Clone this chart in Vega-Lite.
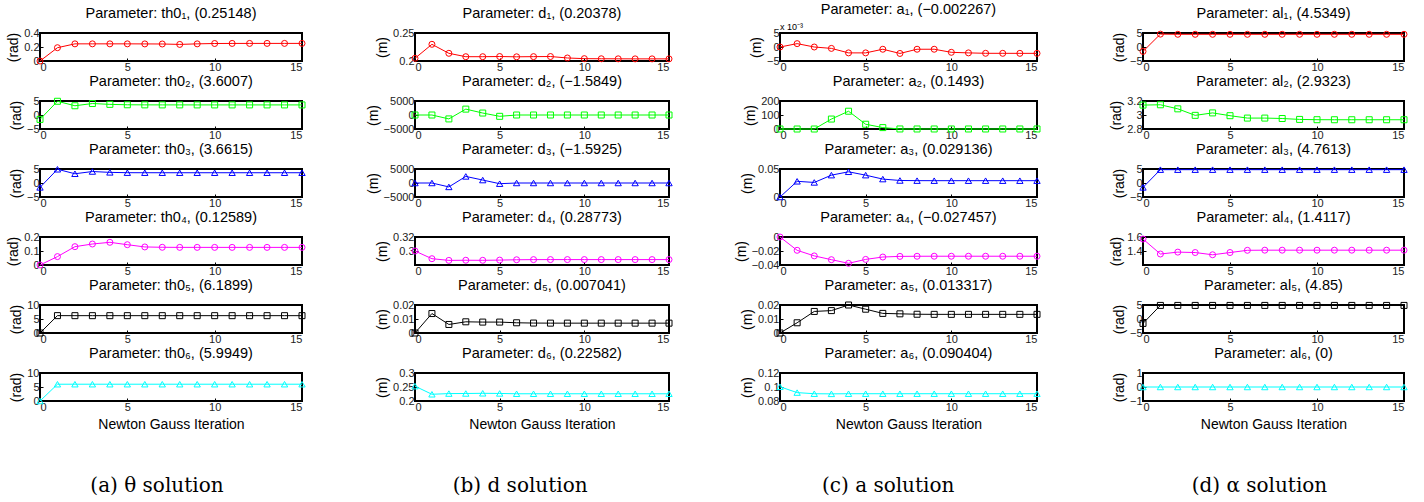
{
  "$schema": "https://vega.github.io/schema/vega-lite/v6.json",
  "padding": {"left": 5, "top": 0, "right": 5, "bottom": 5},
  "background": "white",
  "datasets": {
    "th1": [{"i":0,"v":0},{"i":1,"v":0.19},{"i":2,"v":0.245},{"i":3,"v":0.245},{"i":4,"v":0.245},{"i":5,"v":0.245},{"i":6,"v":0.244},{"i":7,"v":0.243},{"i":8,"v":0.237},{"i":9,"v":0.245},{"i":10,"v":0.25},{"i":11,"v":0.251},{"i":12,"v":0.2513},{"i":13,"v":0.2514},{"i":14,"v":0.2515},{"i":15,"v":0.25148}],
    "th2": [{"i":0,"v":-1.57},{"i":1,"v":4.9},{"i":2,"v":3.3},{"i":3,"v":4.1},{"i":4,"v":3.8},{"i":5,"v":3.65},{"i":6,"v":3.62},{"i":7,"v":3.61},{"i":8,"v":3.605},{"i":9,"v":3.602},{"i":10,"v":3.601},{"i":11,"v":3.6007},{"i":12,"v":3.6007},{"i":13,"v":3.6007},{"i":14,"v":3.6007},{"i":15,"v":3.6007}],
    "th3": [{"i":0,"v":-1.57},{"i":1,"v":4.9},{"i":2,"v":3.3},{"i":3,"v":4.1},{"i":4,"v":3.8},{"i":5,"v":3.68},{"i":6,"v":3.67},{"i":7,"v":3.665},{"i":8,"v":3.663},{"i":9,"v":3.662},{"i":10,"v":3.6615},{"i":11,"v":3.6615},{"i":12,"v":3.6615},{"i":13,"v":3.6615},{"i":14,"v":3.6615},{"i":15,"v":3.6615}],
    "th4": [{"i":0,"v":0},{"i":1,"v":0.06},{"i":2,"v":0.131},{"i":3,"v":0.15},{"i":4,"v":0.162},{"i":5,"v":0.145},{"i":6,"v":0.129},{"i":7,"v":0.1265},{"i":8,"v":0.126},{"i":9,"v":0.1259},{"i":10,"v":0.12589},{"i":11,"v":0.12589},{"i":12,"v":0.12589},{"i":13,"v":0.12589},{"i":14,"v":0.12589},{"i":15,"v":0.12589}],
    "th5": [{"i":0,"v":0},{"i":1,"v":6.2},{"i":2,"v":6.19},{"i":3,"v":6.19},{"i":4,"v":6.19},{"i":5,"v":6.19},{"i":6,"v":6.19},{"i":7,"v":6.19},{"i":8,"v":6.19},{"i":9,"v":6.19},{"i":10,"v":6.19},{"i":11,"v":6.19},{"i":12,"v":6.19},{"i":13,"v":6.19},{"i":14,"v":6.19},{"i":15,"v":6.1899}],
    "th6": [{"i":0,"v":0},{"i":1,"v":5.99},{"i":2,"v":5.995},{"i":3,"v":5.995},{"i":4,"v":5.995},{"i":5,"v":5.995},{"i":6,"v":5.995},{"i":7,"v":5.995},{"i":8,"v":5.995},{"i":9,"v":5.995},{"i":10,"v":5.995},{"i":11,"v":5.995},{"i":12,"v":5.995},{"i":13,"v":5.995},{"i":14,"v":5.995},{"i":15,"v":5.9949}],
    "d1": [{"i":0,"v":0.2048},{"i":1,"v":0.2298},{"i":2,"v":0.2137},{"i":3,"v":0.2077},{"i":4,"v":0.2077},{"i":5,"v":0.208},{"i":6,"v":0.2075},{"i":7,"v":0.2078},{"i":8,"v":0.208},{"i":9,"v":0.2054},{"i":10,"v":0.2042},{"i":11,"v":0.204},{"i":12,"v":0.2039},{"i":13,"v":0.2038},{"i":14,"v":0.2038},{"i":15,"v":0.20378}],
    "d2": [{"i":0,"v":0},{"i":1,"v":0},{"i":2,"v":-1400},{"i":3,"v":2100},{"i":4,"v":700},{"i":5,"v":-470},{"i":6,"v":-5},{"i":7,"v":-2},{"i":8,"v":-1.6},{"i":9,"v":-1.585},{"i":10,"v":-1.585},{"i":11,"v":-1.585},{"i":12,"v":-1.585},{"i":13,"v":-1.585},{"i":14,"v":-1.585},{"i":15,"v":-1.5849}],
    "d3": [{"i":0,"v":0},{"i":1,"v":0},{"i":2,"v":-1400},{"i":3,"v":2350},{"i":4,"v":1050},{"i":5,"v":-250},{"i":6,"v":0},{"i":7,"v":-2},{"i":8,"v":-1.6},{"i":9,"v":-1.59},{"i":10,"v":-1.59},{"i":11,"v":-1.59},{"i":12,"v":-1.59},{"i":13,"v":-1.59},{"i":14,"v":-1.59},{"i":15,"v":-1.5925}],
    "d4": [{"i":0,"v":0.3},{"i":1,"v":0.289},{"i":2,"v":0.2866},{"i":3,"v":0.2868},{"i":4,"v":0.2867},{"i":5,"v":0.287},{"i":6,"v":0.2875},{"i":7,"v":0.2877},{"i":8,"v":0.28773},{"i":9,"v":0.28773},{"i":10,"v":0.28773},{"i":11,"v":0.28773},{"i":12,"v":0.28773},{"i":13,"v":0.28773},{"i":14,"v":0.28773},{"i":15,"v":0.28773}],
    "d5": [{"i":0,"v":0},{"i":1,"v":0.0139},{"i":2,"v":0.0061},{"i":3,"v":0.008},{"i":4,"v":0.0078},{"i":5,"v":0.0078},{"i":6,"v":0.0073},{"i":7,"v":0.0071},{"i":8,"v":0.00705},{"i":9,"v":0.007041},{"i":10,"v":0.007041},{"i":11,"v":0.007041},{"i":12,"v":0.007041},{"i":13,"v":0.007041},{"i":14,"v":0.007041},{"i":15,"v":0.007041}],
    "d6": [{"i":0,"v":0.253},{"i":1,"v":0.224},{"i":2,"v":0.2265},{"i":3,"v":0.2268},{"i":4,"v":0.2275},{"i":5,"v":0.227},{"i":6,"v":0.2258},{"i":7,"v":0.2258},{"i":8,"v":0.2258},{"i":9,"v":0.2258},{"i":10,"v":0.2258},{"i":11,"v":0.2258},{"i":12,"v":0.2258},{"i":13,"v":0.2258},{"i":14,"v":0.2258},{"i":15,"v":0.22582}],
    "a1": [{"i":0,"v":0},{"i":1,"v":0.0012},{"i":2,"v":0},{"i":3,"v":-0.0005},{"i":4,"v":-0.0021},{"i":5,"v":-0.0021},{"i":6,"v":-0.0008},{"i":7,"v":-0.0023},{"i":8,"v":-0.0008},{"i":9,"v":-0.0008},{"i":10,"v":-0.0019},{"i":11,"v":-0.0021},{"i":12,"v":-0.00225},{"i":13,"v":-0.00226},{"i":14,"v":-0.002267},{"i":15,"v":-0.002267}],
    "a2": [{"i":0,"v":0},{"i":1,"v":0},{"i":2,"v":0},{"i":3,"v":71},{"i":4,"v":127},{"i":5,"v":34},{"i":6,"v":10},{"i":7,"v":0.3},{"i":8,"v":0.15},{"i":9,"v":0.1493},{"i":10,"v":0.1493},{"i":11,"v":0.1493},{"i":12,"v":0.1493},{"i":13,"v":0.1493},{"i":14,"v":0.1493},{"i":15,"v":0.1493}],
    "a3": [{"i":0,"v":0},{"i":1,"v":0.028},{"i":2,"v":0.026},{"i":3,"v":0.039},{"i":4,"v":0.045},{"i":5,"v":0.039},{"i":6,"v":0.032},{"i":7,"v":0.0295},{"i":8,"v":0.0292},{"i":9,"v":0.02914},{"i":10,"v":0.029136},{"i":11,"v":0.029136},{"i":12,"v":0.029136},{"i":13,"v":0.029136},{"i":14,"v":0.029136},{"i":15,"v":0.029136}],
    "a4": [{"i":0,"v":0},{"i":1,"v":-0.019},{"i":2,"v":-0.027},{"i":3,"v":-0.0324},{"i":4,"v":-0.0376},{"i":5,"v":-0.032},{"i":6,"v":-0.0286},{"i":7,"v":-0.0277},{"i":8,"v":-0.0275},{"i":9,"v":-0.027457},{"i":10,"v":-0.027457},{"i":11,"v":-0.027457},{"i":12,"v":-0.027457},{"i":13,"v":-0.027457},{"i":14,"v":-0.027457},{"i":15,"v":-0.027457}],
    "a5": [{"i":0,"v":0},{"i":1,"v":0.0073},{"i":2,"v":0.0154},{"i":3,"v":0.016},{"i":4,"v":0.02},{"i":5,"v":0.017},{"i":6,"v":0.014},{"i":7,"v":0.0137},{"i":8,"v":0.0134},{"i":9,"v":0.013317},{"i":10,"v":0.013317},{"i":11,"v":0.013317},{"i":12,"v":0.013317},{"i":13,"v":0.013317},{"i":14,"v":0.013317},{"i":15,"v":0.013317}],
    "a6": [{"i":0,"v":0.1003},{"i":1,"v":0.092},{"i":2,"v":0.0904},{"i":3,"v":0.0902},{"i":4,"v":0.0904},{"i":5,"v":0.0904},{"i":6,"v":0.0904},{"i":7,"v":0.0904},{"i":8,"v":0.0904},{"i":9,"v":0.0904},{"i":10,"v":0.0904},{"i":11,"v":0.0904},{"i":12,"v":0.0904},{"i":13,"v":0.0904},{"i":14,"v":0.0904},{"i":15,"v":0.090404}],
    "al1": [{"i":0,"v":-1.5708},{"i":1,"v":4.6},{"i":2,"v":4.54},{"i":3,"v":4.535},{"i":4,"v":4.535},{"i":5,"v":4.535},{"i":6,"v":4.535},{"i":7,"v":4.535},{"i":8,"v":4.535},{"i":9,"v":4.535},{"i":10,"v":4.535},{"i":11,"v":4.535},{"i":12,"v":4.535},{"i":13,"v":4.535},{"i":14,"v":4.535},{"i":15,"v":4.5349}],
    "al2": [{"i":0,"v":3.1416},{"i":1,"v":3.146},{"i":2,"v":3.088},{"i":3,"v":2.995},{"i":4,"v":3.03},{"i":5,"v":2.99},{"i":6,"v":2.956},{"i":7,"v":2.956},{"i":8,"v":2.95},{"i":9,"v":2.937},{"i":10,"v":2.933},{"i":11,"v":2.9323},{"i":12,"v":2.9323},{"i":13,"v":2.9323},{"i":14,"v":2.9323},{"i":15,"v":2.9323}],
    "al3": [{"i":0,"v":-1.5708},{"i":1,"v":4.76},{"i":2,"v":4.76},{"i":3,"v":4.76},{"i":4,"v":4.76},{"i":5,"v":4.76},{"i":6,"v":4.76},{"i":7,"v":4.76},{"i":8,"v":4.76},{"i":9,"v":4.76},{"i":10,"v":4.76},{"i":11,"v":4.76},{"i":12,"v":4.76},{"i":13,"v":4.76},{"i":14,"v":4.76},{"i":15,"v":4.7613}],
    "al4": [{"i":0,"v":1.5708},{"i":1,"v":1.357},{"i":2,"v":1.384},{"i":3,"v":1.378},{"i":4,"v":1.346},{"i":5,"v":1.378},{"i":6,"v":1.41},{"i":7,"v":1.4117},{"i":8,"v":1.4117},{"i":9,"v":1.4117},{"i":10,"v":1.4117},{"i":11,"v":1.4117},{"i":12,"v":1.4117},{"i":13,"v":1.4117},{"i":14,"v":1.4117},{"i":15,"v":1.4117}],
    "al5": [{"i":0,"v":-1.5708},{"i":1,"v":4.85},{"i":2,"v":4.85},{"i":3,"v":4.85},{"i":4,"v":4.85},{"i":5,"v":4.85},{"i":6,"v":4.85},{"i":7,"v":4.85},{"i":8,"v":4.85},{"i":9,"v":4.85},{"i":10,"v":4.85},{"i":11,"v":4.85},{"i":12,"v":4.85},{"i":13,"v":4.85},{"i":14,"v":4.85},{"i":15,"v":4.85}],
    "al6": [{"i":0,"v":0},{"i":1,"v":0},{"i":2,"v":0},{"i":3,"v":0},{"i":4,"v":0},{"i":5,"v":0},{"i":6,"v":0},{"i":7,"v":0},{"i":8,"v":0},{"i":9,"v":0},{"i":10,"v":0},{"i":11,"v":0},{"i":12,"v":0},{"i":13,"v":0},{"i":14,"v":0},{"i":15,"v":0}]
  },
  "spacing": 56,
  "hconcat": [
    {
      "title": {"text": "(a)  θ solution", "orient": "bottom", "anchor": "middle", "frame": "bounds", "font": "DejaVu Serif", "fontSize": 20, "offset": 44},
      "spacing": -1,
      "vconcat": [
        {"data": {"name": "th1"}, "title": "Parameter: th0₁, (0.25148)", "width": 262, "height": 28,
         "encoding": {"x": {"field": "i", "type": "quantitative", "scale": {"domain": [0, 15]}, "axis": {"values": [0, 5, 10, 15], "title": null}},
                      "y": {"field": "v", "type": "quantitative", "scale": {"domain": [0, 0.4]}, "axis": {"values": [0, 0.2, 0.4], "format": "~r", "title": "(rad)"}}},
         "layer": [{"mark": {"type": "line", "color": "#ff0000", "strokeWidth": 1}},
                   {"mark": {"type": "point", "shape": "circle", "color": "#ff0000", "size": 36, "strokeWidth": 1, "filled": false, "opacity": 1}}]},
        {"data": {"name": "th2"}, "title": "Parameter: th0₂, (3.6007)", "width": 262, "height": 28,
         "encoding": {"x": {"field": "i", "type": "quantitative", "scale": {"domain": [0, 15]}, "axis": {"values": [0, 5, 10, 15], "title": null}},
                      "y": {"field": "v", "type": "quantitative", "scale": {"domain": [-5, 5]}, "axis": {"values": [-5, 0, 5], "format": "~r", "title": "(rad)"}}},
         "layer": [{"mark": {"type": "line", "color": "#00ff00", "strokeWidth": 1}},
                   {"mark": {"type": "point", "shape": "square", "color": "#00ff00", "size": 36, "strokeWidth": 1, "filled": false, "opacity": 1}}]},
        {"data": {"name": "th3"}, "title": "Parameter: th0₃, (3.6615)", "width": 262, "height": 28,
         "encoding": {"x": {"field": "i", "type": "quantitative", "scale": {"domain": [0, 15]}, "axis": {"values": [0, 5, 10, 15], "title": null}},
                      "y": {"field": "v", "type": "quantitative", "scale": {"domain": [-5, 5]}, "axis": {"values": [-5, 0, 5], "format": "~r", "title": "(rad)"}}},
         "layer": [{"mark": {"type": "line", "color": "#0000ff", "strokeWidth": 1}},
                   {"mark": {"type": "point", "shape": "triangle-up", "color": "#0000ff", "size": 40, "strokeWidth": 1, "filled": false, "opacity": 1}}]},
        {"data": {"name": "th4"}, "title": "Parameter: th0₄, (0.12589)", "width": 262, "height": 28,
         "encoding": {"x": {"field": "i", "type": "quantitative", "scale": {"domain": [0, 15]}, "axis": {"values": [0, 5, 10, 15], "title": null}},
                      "y": {"field": "v", "type": "quantitative", "scale": {"domain": [0, 0.2]}, "axis": {"values": [0, 0.1, 0.2], "format": "~r", "title": "(rad)"}}},
         "layer": [{"mark": {"type": "line", "color": "#ff00ff", "strokeWidth": 1}},
                   {"mark": {"type": "point", "shape": "circle", "color": "#ff00ff", "size": 36, "strokeWidth": 1, "filled": false, "opacity": 1}}]},
        {"data": {"name": "th5"}, "title": "Parameter: th0₅, (6.1899)", "width": 262, "height": 28,
         "encoding": {"x": {"field": "i", "type": "quantitative", "scale": {"domain": [0, 15]}, "axis": {"values": [0, 5, 10, 15], "title": null}},
                      "y": {"field": "v", "type": "quantitative", "scale": {"domain": [0, 10]}, "axis": {"values": [0, 5, 10], "format": "~r", "title": "(rad)"}}},
         "layer": [{"mark": {"type": "line", "color": "#000000", "strokeWidth": 1}},
                   {"mark": {"type": "point", "shape": "square", "color": "#000000", "size": 36, "strokeWidth": 1, "filled": false, "opacity": 1}}]},
        {"data": {"name": "th6"}, "title": "Parameter: th0₆, (5.9949)", "width": 262, "height": 28,
         "encoding": {"x": {"field": "i", "type": "quantitative", "scale": {"domain": [0, 15]}, "axis": {"values": [0, 5, 10, 15], "title": "Newton Gauss Iteration"}},
                      "y": {"field": "v", "type": "quantitative", "scale": {"domain": [0, 10]}, "axis": {"values": [0, 5, 10], "format": "~r", "title": "(rad)"}}},
         "layer": [{"mark": {"type": "line", "color": "#00ffff", "strokeWidth": 1}},
                   {"mark": {"type": "point", "shape": "triangle-up", "color": "#00ffff", "size": 40, "strokeWidth": 1, "filled": false, "opacity": 1}}]}
      ]
    },
    {
      "spacing": 57,
      "hconcat": [
        {
          "title": {"text": "(b)  d solution", "orient": "bottom", "anchor": "middle", "frame": "bounds", "font": "DejaVu Serif", "fontSize": 20, "offset": 44},
          "spacing": -1,
          "vconcat": [
            {"data": {"name": "d1"}, "title": "Parameter: d₁, (0.20378)", "width": 254, "height": 28,
             "encoding": {"x": {"field": "i", "type": "quantitative", "scale": {"domain": [0, 15]}, "axis": {"values": [0, 5, 10, 15], "title": null}},
                          "y": {"field": "v", "type": "quantitative", "scale": {"domain": [0.2, 0.25]}, "axis": {"values": [0.2, 0.25], "format": "~r", "title": "(m)"}}},
             "layer": [{"mark": {"type": "line", "color": "#ff0000", "strokeWidth": 1}},
                       {"mark": {"type": "point", "shape": "circle", "color": "#ff0000", "size": 36, "strokeWidth": 1, "filled": false, "opacity": 1}}]},
            {"data": {"name": "d2"}, "title": "Parameter: d₂, (−1.5849)", "width": 254, "height": 28,
             "encoding": {"x": {"field": "i", "type": "quantitative", "scale": {"domain": [0, 15]}, "axis": {"values": [0, 5, 10, 15], "title": null}},
                          "y": {"field": "v", "type": "quantitative", "scale": {"domain": [-5000, 5000]}, "axis": {"values": [-5000, 0, 5000], "format": "~r", "title": "(m)"}}},
             "layer": [{"mark": {"type": "line", "color": "#00ff00", "strokeWidth": 1}},
                       {"mark": {"type": "point", "shape": "square", "color": "#00ff00", "size": 36, "strokeWidth": 1, "filled": false, "opacity": 1}}]},
            {"data": {"name": "d3"}, "title": "Parameter: d₃, (−1.5925)", "width": 254, "height": 28,
             "encoding": {"x": {"field": "i", "type": "quantitative", "scale": {"domain": [0, 15]}, "axis": {"values": [0, 5, 10, 15], "title": null}},
                          "y": {"field": "v", "type": "quantitative", "scale": {"domain": [-5000, 5000]}, "axis": {"values": [-5000, 0, 5000], "format": "~r", "title": "(m)"}}},
             "layer": [{"mark": {"type": "line", "color": "#0000ff", "strokeWidth": 1}},
                       {"mark": {"type": "point", "shape": "triangle-up", "color": "#0000ff", "size": 40, "strokeWidth": 1, "filled": false, "opacity": 1}}]},
            {"data": {"name": "d4"}, "title": "Parameter: d₄, (0.28773)", "width": 254, "height": 28,
             "encoding": {"x": {"field": "i", "type": "quantitative", "scale": {"domain": [0, 15]}, "axis": {"values": [0, 5, 10, 15], "title": null}},
                          "y": {"field": "v", "type": "quantitative", "scale": {"domain": [0.28, 0.32]}, "axis": {"values": [0.3, 0.32], "format": "~r", "title": "(m)"}}},
             "layer": [{"mark": {"type": "line", "color": "#ff00ff", "strokeWidth": 1}},
                       {"mark": {"type": "point", "shape": "circle", "color": "#ff00ff", "size": 36, "strokeWidth": 1, "filled": false, "opacity": 1}}]},
            {"data": {"name": "d5"}, "title": "Parameter: d₅, (0.007041)", "width": 254, "height": 28,
             "encoding": {"x": {"field": "i", "type": "quantitative", "scale": {"domain": [0, 15]}, "axis": {"values": [0, 5, 10, 15], "title": null}},
                          "y": {"field": "v", "type": "quantitative", "scale": {"domain": [0, 0.02]}, "axis": {"values": [0, 0.01, 0.02], "format": "~r", "title": "(m)"}}},
             "layer": [{"mark": {"type": "line", "color": "#000000", "strokeWidth": 1}},
                       {"mark": {"type": "point", "shape": "square", "color": "#000000", "size": 36, "strokeWidth": 1, "filled": false, "opacity": 1}}]},
            {"data": {"name": "d6"}, "title": "Parameter: d₆, (0.22582)", "width": 254, "height": 28,
             "encoding": {"x": {"field": "i", "type": "quantitative", "scale": {"domain": [0, 15]}, "axis": {"values": [0, 5, 10, 15], "title": "Newton Gauss Iteration"}},
                          "y": {"field": "v", "type": "quantitative", "scale": {"domain": [0.2, 0.3]}, "axis": {"values": [0.2, 0.25, 0.3], "format": "~r", "title": "(m)"}}},
             "layer": [{"mark": {"type": "line", "color": "#00ffff", "strokeWidth": 1}},
                       {"mark": {"type": "point", "shape": "triangle-up", "color": "#00ffff", "size": 40, "strokeWidth": 1, "filled": false, "opacity": 1}}]}
          ]
        },
        {
          "spacing": 64,
          "hconcat": [
            {
              "title": {"text": "(c)  a solution", "orient": "bottom", "anchor": "middle", "frame": "bounds", "font": "DejaVu Serif", "fontSize": 20, "offset": 44},
              "spacing": -1,
              "vconcat": [
                {"data": {"name": "a1"}, "title": "Parameter: a₁, (−0.002267)", "width": 257, "height": 28,
                 "encoding": {"x": {"field": "i", "type": "quantitative", "scale": {"domain": [0, 15]}, "axis": {"values": [0, 5, 10, 15], "title": null}},
                              "y": {"field": "v", "type": "quantitative", "scale": {"domain": [-0.005, 0.005]}, "axis": {"values": [-0.005, 0, 0.005], "labelExpr": "format(datum.value * 1000, '~r')", "title": "(m)"}}},
                 "layer": [{"mark": {"type": "line", "color": "#ff0000", "strokeWidth": 1}},
                           {"mark": {"type": "point", "shape": "circle", "color": "#ff0000", "size": 36, "strokeWidth": 1, "filled": false, "opacity": 1}},
                           {"data": {"values": [{"t": "x 10⁻³", "xi": 0, "yv": 0.005}]}, "mark": {"type": "text", "align": "left", "baseline": "bottom", "dy": -1, "fontSize": 9, "color": "#000000"},
                            "encoding": {"x": {"field": "xi", "type": "quantitative"}, "y": {"field": "yv", "type": "quantitative"}, "text": {"field": "t", "type": "nominal"}}}]},
                {"data": {"name": "a2"}, "title": "Parameter: a₂, (0.1493)", "width": 257, "height": 28,
                 "encoding": {"x": {"field": "i", "type": "quantitative", "scale": {"domain": [0, 15]}, "axis": {"values": [0, 5, 10, 15], "title": null}},
                              "y": {"field": "v", "type": "quantitative", "scale": {"domain": [0, 200]}, "axis": {"values": [0, 100, 200], "format": "~r", "title": "(m)"}}},
                 "layer": [{"mark": {"type": "line", "color": "#00ff00", "strokeWidth": 1}},
                           {"mark": {"type": "point", "shape": "square", "color": "#00ff00", "size": 36, "strokeWidth": 1, "filled": false, "opacity": 1}}]},
                {"data": {"name": "a3"}, "title": "Parameter: a₃, (0.029136)", "width": 257, "height": 28,
                 "encoding": {"x": {"field": "i", "type": "quantitative", "scale": {"domain": [0, 15]}, "axis": {"values": [0, 5, 10, 15], "title": null}},
                              "y": {"field": "v", "type": "quantitative", "scale": {"domain": [0, 0.05]}, "axis": {"values": [0, 0.05], "format": "~r", "title": "(m)"}}},
                 "layer": [{"mark": {"type": "line", "color": "#0000ff", "strokeWidth": 1}},
                           {"mark": {"type": "point", "shape": "triangle-up", "color": "#0000ff", "size": 40, "strokeWidth": 1, "filled": false, "opacity": 1}}]},
                {"data": {"name": "a4"}, "title": "Parameter: a₄, (−0.027457)", "width": 257, "height": 28,
                 "encoding": {"x": {"field": "i", "type": "quantitative", "scale": {"domain": [0, 15]}, "axis": {"values": [0, 5, 10, 15], "title": null}},
                              "y": {"field": "v", "type": "quantitative", "scale": {"domain": [-0.04, 0]}, "axis": {"values": [-0.04, -0.02, 0], "format": "~r", "title": "(m)"}}},
                 "layer": [{"mark": {"type": "line", "color": "#ff00ff", "strokeWidth": 1}},
                           {"mark": {"type": "point", "shape": "circle", "color": "#ff00ff", "size": 36, "strokeWidth": 1, "filled": false, "opacity": 1}}]},
                {"data": {"name": "a5"}, "title": "Parameter: a₅, (0.013317)", "width": 257, "height": 28,
                 "encoding": {"x": {"field": "i", "type": "quantitative", "scale": {"domain": [0, 15]}, "axis": {"values": [0, 5, 10, 15], "title": null}},
                              "y": {"field": "v", "type": "quantitative", "scale": {"domain": [0, 0.02]}, "axis": {"values": [0, 0.01, 0.02], "format": "~r", "title": "(m)"}}},
                 "layer": [{"mark": {"type": "line", "color": "#000000", "strokeWidth": 1}},
                           {"mark": {"type": "point", "shape": "square", "color": "#000000", "size": 36, "strokeWidth": 1, "filled": false, "opacity": 1}}]},
                {"data": {"name": "a6"}, "title": "Parameter: a₆, (0.090404)", "width": 257, "height": 28,
                 "encoding": {"x": {"field": "i", "type": "quantitative", "scale": {"domain": [0, 15]}, "axis": {"values": [0, 5, 10, 15], "title": "Newton Gauss Iteration"}},
                              "y": {"field": "v", "type": "quantitative", "scale": {"domain": [0.08, 0.12]}, "axis": {"values": [0.08, 0.1, 0.12], "format": "~r", "title": "(m)"}}},
                 "layer": [{"mark": {"type": "line", "color": "#00ffff", "strokeWidth": 1}},
                           {"mark": {"type": "point", "shape": "triangle-up", "color": "#00ffff", "size": 40, "strokeWidth": 1, "filled": false, "opacity": 1}}]}
              ]
            },
            {
              "title": {"text": "(d)  α solution", "orient": "bottom", "anchor": "middle", "frame": "bounds", "font": "DejaVu Serif", "fontSize": 20, "offset": 44},
              "spacing": -1,
              "vconcat": [
                {"data": {"name": "al1"}, "title": "Parameter: al₁, (4.5349)", "width": 261, "height": 28,
                 "encoding": {"x": {"field": "i", "type": "quantitative", "scale": {"domain": [0, 15]}, "axis": {"values": [0, 5, 10, 15], "title": null}},
                              "y": {"field": "v", "type": "quantitative", "scale": {"domain": [-5, 5]}, "axis": {"values": [-5, 0, 5], "format": "~r", "title": "(rad)"}}},
                 "layer": [{"mark": {"type": "line", "color": "#ff0000", "strokeWidth": 1}},
                           {"mark": {"type": "point", "shape": "circle", "color": "#ff0000", "size": 36, "strokeWidth": 1, "filled": false, "opacity": 1}}]},
                {"data": {"name": "al2"}, "title": "Parameter: al₂, (2.9323)", "width": 261, "height": 28,
                 "encoding": {"x": {"field": "i", "type": "quantitative", "scale": {"domain": [0, 15]}, "axis": {"values": [0, 5, 10, 15], "title": null}},
                              "y": {"field": "v", "type": "quantitative", "scale": {"domain": [2.8, 3.2]}, "axis": {"values": [2.8, 3, 3.2], "format": "~r", "title": "(rad)"}}},
                 "layer": [{"mark": {"type": "line", "color": "#00ff00", "strokeWidth": 1}},
                           {"mark": {"type": "point", "shape": "square", "color": "#00ff00", "size": 36, "strokeWidth": 1, "filled": false, "opacity": 1}}]},
                {"data": {"name": "al3"}, "title": "Parameter: al₃, (4.7613)", "width": 261, "height": 28,
                 "encoding": {"x": {"field": "i", "type": "quantitative", "scale": {"domain": [0, 15]}, "axis": {"values": [0, 5, 10, 15], "title": null}},
                              "y": {"field": "v", "type": "quantitative", "scale": {"domain": [-5, 5]}, "axis": {"values": [-5, 0, 5], "format": "~r", "title": "(rad)"}}},
                 "layer": [{"mark": {"type": "line", "color": "#0000ff", "strokeWidth": 1}},
                           {"mark": {"type": "point", "shape": "triangle-up", "color": "#0000ff", "size": 40, "strokeWidth": 1, "filled": false, "opacity": 1}}]},
                {"data": {"name": "al4"}, "title": "Parameter: al₄, (1.4117)", "width": 261, "height": 28,
                 "encoding": {"x": {"field": "i", "type": "quantitative", "scale": {"domain": [0, 15]}, "axis": {"values": [0, 5, 10, 15], "title": null}},
                              "y": {"field": "v", "type": "quantitative", "scale": {"domain": [1.2, 1.6]}, "axis": {"values": [1.4, 1.6], "format": "~r", "title": "(rad)"}}},
                 "layer": [{"mark": {"type": "line", "color": "#ff00ff", "strokeWidth": 1}},
                           {"mark": {"type": "point", "shape": "circle", "color": "#ff00ff", "size": 36, "strokeWidth": 1, "filled": false, "opacity": 1}}]},
                {"data": {"name": "al5"}, "title": "Parameter: al₅, (4.85)", "width": 261, "height": 28,
                 "encoding": {"x": {"field": "i", "type": "quantitative", "scale": {"domain": [0, 15]}, "axis": {"values": [0, 5, 10, 15], "title": null}},
                              "y": {"field": "v", "type": "quantitative", "scale": {"domain": [-5, 5]}, "axis": {"values": [-5, 0, 5], "format": "~r", "title": "(rad)"}}},
                 "layer": [{"mark": {"type": "line", "color": "#000000", "strokeWidth": 1}},
                           {"mark": {"type": "point", "shape": "square", "color": "#000000", "size": 36, "strokeWidth": 1, "filled": false, "opacity": 1}}]},
                {"data": {"name": "al6"}, "title": "Parameter: al₆, (0)", "width": 261, "height": 28,
                 "encoding": {"x": {"field": "i", "type": "quantitative", "scale": {"domain": [0, 15]}, "axis": {"values": [0, 5, 10, 15], "title": "Newton Gauss Iteration"}},
                              "y": {"field": "v", "type": "quantitative", "scale": {"domain": [-1, 1]}, "axis": {"values": [-1, 0, 1], "format": "~r", "title": "(rad)"}}},
                 "layer": [{"mark": {"type": "line", "color": "#00ffff", "strokeWidth": 1}},
                           {"mark": {"type": "point", "shape": "triangle-up", "color": "#00ffff", "size": 40, "strokeWidth": 1, "filled": false, "opacity": 1}}]}
              ]
            }
          ]
        }
      ]
    }
  ],
  "config": {
    "font": "Liberation Sans",
    "view": {"stroke": "#000000", "strokeWidth": 2},
    "axis": {"grid": false, "domain": false, "tickColor": "#000000", "tickSize": -3, "labelPadding": 4, "labelFont": "Liberation Sans", "labelFontSize": 11, "labelColor": "#222222", "titleFont": "Liberation Sans", "titleFontSize": 14, "titleFontWeight": "normal", "titleColor": "#000000", "titlePadding": 3},
    "axisX": {"labelPadding": 3, "titlePadding": 5},
    "title": {"font": "Liberation Sans", "fontSize": 14.5, "fontWeight": "normal", "color": "#000000", "offset": 6, "frame": "group"}
  }
}
